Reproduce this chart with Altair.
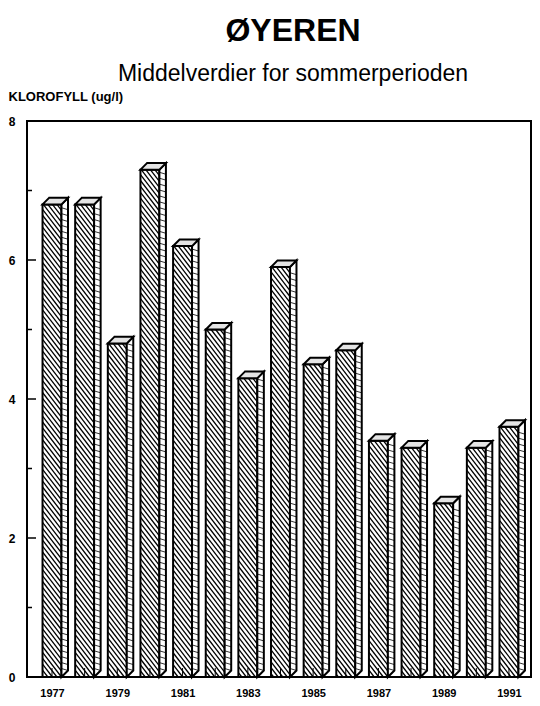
import pandas as pd
import altair as alt

# values
years = [1977, 1978, 1979, 1980, 1981, 1982, 1983, 1984,
         1985, 1986, 1987, 1988, 1989, 1990, 1991]
klorofyll = [6.8, 6.8, 4.8, 7.3, 6.2, 5.0, 4.3, 5.9,
             4.5, 4.7, 3.4, 3.3, 2.5, 3.3, 3.6]
year_labels = [1977, 1979, 1981, 1983, 1985, 1987, 1989, 1991]
major_ticks = [0, 2, 4, 6, 8]
minor_ticks = [1, 3, 5, 7]

W, H = 504, 556
FONT = "Liberation Sans"

# 3d bar geometry in data units
HALF = 0.29     # half width of the front face (years)
DX = 0.2        # depth to the right (years)
DY = 0.094      # depth upwards (chart units)
SLOPE = 0.61    # hatch lines drop (units per year)
STEP = 0.085    # hatch spacing along the bar edge

data = pd.DataFrame({"year": years, "value": klorofyll})

xscale = alt.Scale(domain=[1976.234, 1991.675], nice=False, zero=False)
yscale = alt.Scale(domain=[0, 8], nice=False)

xaxis = alt.Axis(values=year_labels, format="d", title=None, ticks=False,
                 domain=False, grid=False, labelFont=FONT, labelFontSize=11,
                 labelFontWeight="bold", labelColor="black", labelPadding=10,
                 labelFlush=False)
yaxis = alt.Axis(values=major_ticks, title="KLOROFYLL (ug/l)", ticks=False,
                 domain=False, grid=False, labelFont=FONT, labelFontSize=12,
                 labelFontWeight="bold", labelColor="black", labelPadding=12,
                 titleAngle=0, titleX=-19, titleY=-21, titleAlign="left",
                 titleBaseline="alphabetic", titleFont=FONT, titleFontSize=13,
                 titleFontWeight="bold", titleColor="black")


def X(field):
    return alt.X(field, type="quantitative", scale=xscale, axis=xaxis, stack=False)


def Y(field):
    return alt.Y(field, type="quantitative", scale=yscale, axis=yaxis, stack=False)


base = alt.Chart(data)

# front face
front = base.transform_calculate(
    xa=f"datum.year - {HALF}", xb=f"datum.year + {HALF}", zero="0"
)
front_fill = front.mark_rect(fill="white").encode(
    x=X("xa"), x2=alt.X2("xb"), y=Y("value"), y2=alt.Y2("zero")
)
front_line = front.mark_rect(fillOpacity=0, stroke="black", strokeWidth=2).encode(
    x=X("xa"), x2=alt.X2("xb"), y=Y("value"), y2=alt.Y2("zero")
)

# hatching on the front face
w = 2 * HALF
front_hatch = base.transform_calculate(
    ks=f"sequence({-SLOPE * w}, datum.value, {STEP})"
).transform_flatten(["ks"]).transform_calculate(
    hx1=f"datum.year - {HALF} + max(0, -datum.ks) / {SLOPE}",
    hy1="datum.value - max(datum.ks, 0)",
    hx2=f"datum.year - {HALF} + min({w}, (datum.value - datum.ks) / {SLOPE})",
    hy2=f"datum.value - min(datum.ks + {SLOPE * w}, datum.value)",
).mark_rule(color="black", strokeWidth=1.3).encode(
    x=X("hx1"), x2=alt.X2("hx2"), y=Y("hy1"), y2=alt.Y2("hy2")
)

# side face
side = base.transform_calculate(i="[0, 1]").transform_flatten(["i"]).transform_calculate(
    sx=f"datum.year + {HALF} + datum.i * {DX}",
    st=f"datum.value + datum.i * {DY}",
    sb=f"datum.i * {DY}",
)
side_fill = side.mark_area(orient="vertical", fill="white").encode(
    x=X("sx"), y=Y("st"), y2=alt.Y2("sb"), detail="year:N"
)
side_line = side.mark_area(orient="vertical", fillOpacity=0, stroke="black",
                           strokeWidth=2).encode(
    x=X("sx"), y=Y("st"), y2=alt.Y2("sb"), detail="year:N"
)
side_hatch = base.transform_calculate(
    ks=f"sequence({SLOPE * DX}, datum.value, {STEP})"
).transform_flatten(["ks"]).transform_calculate(
    hx1=f"datum.year + {HALF}",
    hx2=f"datum.year + {HALF + DX}",
    hy2=f"datum.ks - {SLOPE * DX} + {DY}",
).mark_rule(color="#333333", strokeWidth=1).encode(
    x=X("hx1"), x2=alt.X2("hx2"), y=Y("ks"), y2=alt.Y2("hy2")
)

# top face
top = base.transform_calculate(i="[0, 1]").transform_flatten(["i"]).transform_calculate(
    ty=f"datum.value + datum.i * {DY}",
    tx1=f"datum.year - {HALF} + datum.i * {DX}",
    tx2=f"datum.year + {HALF} + datum.i * {DX}",
).mark_area(orient="horizontal", fill="#e4e4e4", stroke="black",
            strokeWidth=2).encode(
    y=Y("ty"), x=X("tx1"), x2=alt.X2("tx2"), detail="year:N"
)

# inward ticks
yticks_major = alt.Chart(pd.DataFrame({"t": major_ticks})).mark_rule(
    color="black", strokeWidth=1.5
).encode(y=Y("t"), x=alt.value(0), x2=alt.value(9))
yticks_minor = alt.Chart(pd.DataFrame({"t": minor_ticks})).mark_rule(
    color="black", strokeWidth=1.5
).encode(y=Y("t"), x=alt.value(0), x2=alt.value(5))
xticks = alt.Chart(pd.DataFrame({"year": years})).mark_rule(
    color="black", strokeWidth=1
).encode(x=X("year"), y=alt.value(H), y2=alt.value(H - 9))

chart = alt.layer(
    front_fill, front_hatch, front_line,
    side_fill, side_hatch, side_line,
    top, yticks_major, yticks_minor, xticks
).properties(
    width=W,
    height=H,
    background="white",
    autosize=alt.AutoSizeParams(type="none"),
    padding={"left": 19, "top": 113, "right": 1, "bottom": 21},
    title=alt.TitleParams(
        text="ØYEREN",
        subtitle="Middelverdier for sommerperioden",
        font=FONT, fontSize=32, fontWeight="bold", color="black",
        subtitleFont=FONT, subtitleFontSize=23, subtitleColor="black",
        anchor="middle", frame="group", dx=14, offset=3, subtitlePadding=15,
    ),
).configure_view(
    stroke="black", strokeWidth=2
)

chart.save("out.html", embed_options={"renderer": "svg", "actions": False})
